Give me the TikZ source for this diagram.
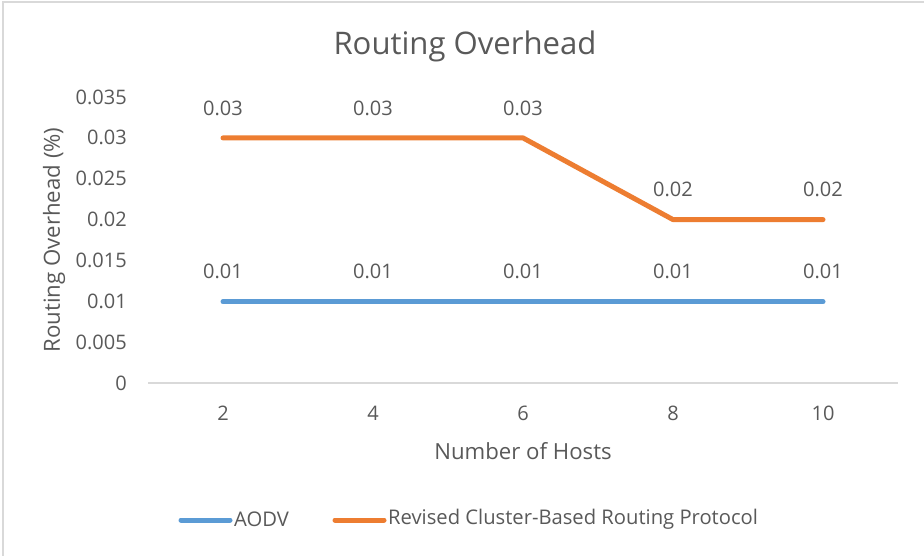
\documentclass[tikz,border=0pt]{standalone}
\usepackage{fontspec}
\setmainfont{Open Sans}
\definecolor{txt}{HTML}{595959}
\definecolor{axisc}{HTML}{D9D9D9}
\definecolor{aodv}{HTML}{5B9BD5}
\definecolor{rcb}{HTML}{ED7D31}
\begin{document}
\begin{tikzpicture}[x=1pt,y=-1pt,
  tick/.style={text=txt,font=\fontsize{20}{22}\selectfont,inner sep=0pt},
  lbl/.style={text=txt,font=\fontsize{22.2}{24}\selectfont,inner sep=0pt},
  leg/.style={text=txt,font=\fontsize{20.2}{22}\selectfont,inner sep=0pt},
  series/.style={line width=5pt,line cap=round,line join=round}]
\useasboundingbox (0,0) rectangle (924,555);
\fill[white] (0,0) rectangle (924,555);
\draw[axisc,line width=1.5pt] (3,560) -- (3,2) -- (930,2);
% title
\node[text=txt,font=\fontsize{31.1}{34}\selectfont,inner sep=0pt] (title) at (465,46) {Routing Overhead};
% y ticks
\foreach \v/\lab [count=\i from 0] in {0/0,0.005/0.005,0.01/0.01,0.015/0.015,0.02/0.02,0.025/0.025,0.03/0.03,0.035/0.035}{
  \node[tick,anchor=east] (yt\i) at (127,{383-\v*8171.4}) {\lab};
}
% axis
\coordinate (ax0) at (148,383);
\coordinate (ax1) at (898,383);
\draw[axisc,line width=2pt] (ax0) -- (ax1);
% x ticks
\foreach \x/\lab in {223/2,373/4,523/6,673/8,823/10}{
  \node[tick] (xt\lab) at (\x,413) {\lab};
}
\node[lbl] (xtitle) at (523,451) {Number of Hosts};
\node[lbl,rotate=90] (ytitle) at (54,240) {Routing Overhead (\%)};
% data points
\foreach \x/\n in {223/1,373/2,523/3,673/4,823/5}{
  \coordinate (a\n) at (\x,301.7);
}
\coordinate (b1) at (223,137.9);
\coordinate (b2) at (373,137.9);
\coordinate (b3) at (523,137.9);
\coordinate (b4) at (673,219.6);
\coordinate (b5) at (823,219.6);
\draw[series,aodv] (a1) -- (a2) -- (a3) -- (a4) -- (a5);
\draw[series,rcb] (b1) -- (b2) -- (b3) -- (b4) -- (b5);
% data labels
\foreach \n in {1,...,5}{
  \node[tick] (la\n) at ([yshift=30pt]a\n) {0.01};
}
\node[tick] (lb1) at ([yshift=30pt]b1) {0.03};
\node[tick] (lb2) at ([yshift=30pt]b2) {0.03};
\node[tick] (lb3) at ([yshift=30pt]b3) {0.03};
\node[tick] (lb4) at ([yshift=30pt]b4) {0.02};
\node[tick] (lb5) at ([yshift=30pt]b5) {0.02};
% legend
\coordinate (l1a) at (181,520);
\coordinate (l1b) at (230,520);
\draw[series,aodv] (l1a) -- (l1b);
\node[leg,anchor=west] (leg1) at (234,519) {AODV};
\coordinate (l2a) at (335,520);
\coordinate (l2b) at (384,520);
\draw[series,rcb] (l2a) -- (l2b);
\node[leg,anchor=west] (leg2) at (388,519) {Revised Cluster-Based Routing Protocol};
\end{tikzpicture}
\end{document}
